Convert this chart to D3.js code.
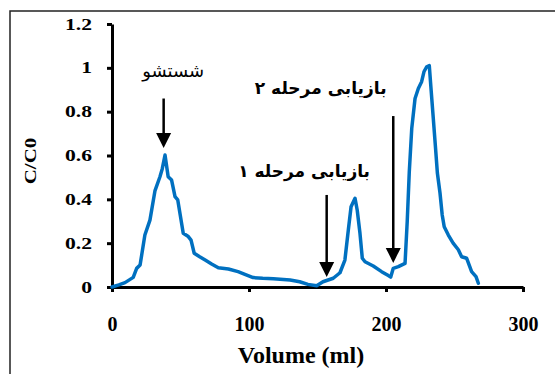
<!DOCTYPE html>
<html>
<head>
<meta charset="utf-8">
<script src="https://cdn.jsdelivr.net/npm/d3@7"></script>
<style>
  body { margin: 0; background: #fff; }
  svg { display: block; }
  .tick text { font-family: "Liberation Serif", "Times New Roman", serif; font-weight: bold; fill: #000; }
  .fa { font-family: "DejaVu Sans", sans-serif; fill: #000; }
</style>
</head>
<body>
<div id="chart"></div>
<script>

// DATA
// --------------------------------------------------------------------------

// Elution volume (ml) and C/C0.
var volume = [
  0, 5, 9.5, 15.5, 18, 20.5, 24, 27.7, 31.4, 35, 36.7, 38.7, 41, 43.5, 46,
  48, 52, 55.7, 57.7, 60, 64, 68, 72.7, 77.6, 85, 92, 97, 103, 110, 117.8,
  130, 137, 143, 149.4, 154, 161.5, 166.4, 170, 172.5, 174.5, 177.4, 179,
  181, 182.7, 184.7, 190.7, 196.8, 201.7, 203.4, 205.3, 209, 213.9, 215.5,
  217, 218.8, 221.2, 223.6, 226, 227.7, 229.7, 231.6, 232.8, 234.5, 236.2,
  237.5, 239.4, 241, 242.5, 245.5, 249, 252.8, 255.2, 258.9, 262.5, 265.7,
  267.4
];

var ratio = [
  0, 0.01, 0.02, 0.044, 0.085, 0.10, 0.237, 0.305, 0.44, 0.503, 0.54, 0.602,
  0.503, 0.488, 0.412, 0.397, 0.245, 0.23, 0.214, 0.154, 0.138, 0.123, 0.105,
  0.088, 0.082, 0.07, 0.058, 0.043, 0.04, 0.038, 0.032, 0.024, 0.012, 0.006,
  0.024, 0.04, 0.065, 0.123, 0.26, 0.366, 0.405, 0.35, 0.245, 0.131, 0.115,
  0.096, 0.07, 0.052, 0.045, 0.085, 0.093, 0.108, 0.30, 0.526, 0.724, 0.86,
  0.906, 0.937, 0.982, 1.005, 1.01, 0.91, 0.77, 0.63, 0.52, 0.43, 0.33,
  0.275, 0.237, 0.2, 0.17, 0.138, 0.131, 0.07, 0.047, 0.017
];

var xTicks = [0, 100, 200, 300];
var yTicks = [0, 0.2, 0.4, 0.6, 0.8, 1, 1.2];

// Annotations: label, arrow volume, arrow top / tip (C/C0),
// and where the label's right end sits.
var notes     = ['شستشو', 'بازیابی مرحله ۱', 'بازیابی مرحله ۲'];
var noteBold  = [false, true, true];
var arrowAt   = [37.7, 156.7, 205.3];
var arrowTop  = [0.86, 0.42, 0.78];
var arrowTip  = [0.634, 0.046, 0.11];
var labelEnd  = [67.2, 188.3, 200.4];
var labelC    = [0.96, 0.5, 0.88];


// CHART
// --------------------------------------------------------------------------

var W = 555, H = 374;

var svg = d3.select('#chart').append('svg')
  .attr('width', W).attr('height', H);

var x = d3.scaleLinear().domain([0, 300]).range([112, 523]);
var y = d3.scaleLinear().domain([0, 1.2]).range([287, 24]);

// Outer frame (only top and left edges fall inside the picture).
svg.append('path')
  .attr('d', 'M10,' + H + 'V11H' + W)
  .attr('fill', 'none')
  .attr('stroke', '#222')
  .attr('stroke-width', 1.5);

// Axes.
var xAxis = svg.append('g')
  .attr('transform', 'translate(0,' + y(0) + ')')
  .call(d3.axisBottom(x).tickValues(xTicks).tickSize(5).tickSizeOuter(0)
    .tickPadding(25).tickFormat(d3.format('d')));

var yAxis = svg.append('g')
  .attr('transform', 'translate(' + x(0) + ',0)')
  .call(d3.axisLeft(y).tickValues(yTicks).tickSize(5).tickSizeOuter(0)
    .tickPadding(15).tickFormat(function(d) { return String(d); }));

[xAxis, yAxis].forEach(function(g) {
  g.select('.domain').attr('stroke', '#000').attr('stroke-width', 3);
  g.selectAll('.tick line').attr('stroke', '#000').attr('stroke-width', 3);
});

xAxis.selectAll('.tick text').attr('font-size', 20);

// The y labels are wide in the reference; stretch them a bit.
yAxis.selectAll('.tick text')
  .attr('font-size', 16)
  .attr('x', -20 / 1.35)
  .attr('transform', 'scale(1.35,1)');

// Axis titles.
svg.append('text')
  .attr('x', 301).attr('y', 363)
  .attr('text-anchor', 'middle')
  .attr('font-family', '"Liberation Serif", serif')
  .attr('font-weight', 'bold')
  .attr('font-size', 24)
  .text('Volume (ml)');

svg.append('text')
  .attr('transform', 'translate(36,' + 161 + ') rotate(-90) scale(1,0.75)')
  .attr('text-anchor', 'middle')
  .attr('font-family', '"Liberation Serif", serif')
  .attr('font-weight', 'bold')
  .attr('font-size', 21)
  .text('C/C0');

// Curve.
var line = d3.line()
  .x(function(d, i) { return x(volume[i]); })
  .y(function(d, i) { return y(ratio[i]); });

svg.append('path')
  .datum(ratio)
  .attr('d', line)
  .attr('fill', 'none')
  .attr('stroke', '#0070C0')
  .attr('stroke-width', 3.5)
  .attr('stroke-linejoin', 'round')
  .attr('stroke-linecap', 'round');

// Arrows and their labels.
notes.forEach(function(label, i) {

  var ax = x(arrowAt[i]);
  var tip = y(arrowTip[i]);

  svg.append('line')
    .attr('x1', ax).attr('x2', ax)
    .attr('y1', y(arrowTop[i])).attr('y2', tip - 10)
    .attr('stroke', '#000')
    .attr('stroke-width', 2.5);

  svg.append('path')
    .attr('d', 'M' + (ax - 7.5) + ',' + (tip - 15) + 'L' + (ax + 7.5) + ',' +
      (tip - 15) + 'L' + ax + ',' + tip + 'Z')
    .attr('fill', '#000');

  svg.append('text')
    .attr('class', 'fa')
    .attr('x', x(labelEnd[i])).attr('y', y(labelC[i]))
    .attr('text-anchor', 'end')
    .attr('font-size', noteBold[i] ? 17 : 18)
    .attr('font-weight', noteBold[i] ? 'bold' : 'normal')
    .text(label);

});

</script>
</body>
</html>
